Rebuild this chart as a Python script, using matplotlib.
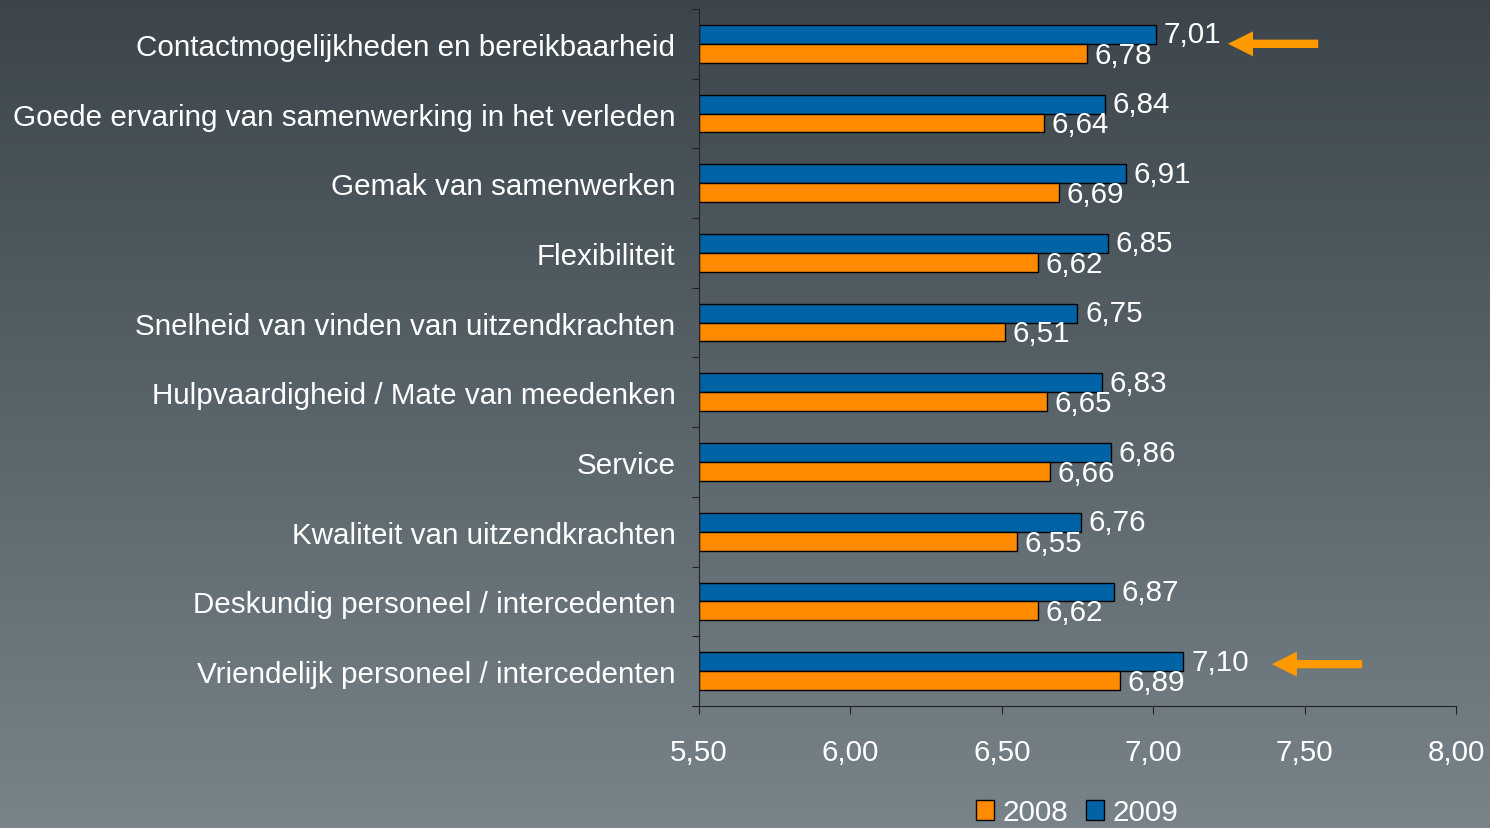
import numpy as np
import matplotlib
matplotlib.use("Agg")
import matplotlib.pyplot as plt
from matplotlib import font_manager

# Data
categories = [
    "Contactmogelijkheden en bereikbaarheid",
    "Goede ervaring van samenwerking in het verleden",
    "Gemak van samenwerken",
    "Flexibiliteit",
    "Snelheid van vinden van uitzendkrachten",
    "Hulpvaardigheid / Mate van meedenken",
    "Service",
    "Kwaliteit van uitzendkrachten",
    "Deskundig personeel / intercedenten",
    "Vriendelijk personeel / intercedenten",
]
scores_2008 = [6.78, 6.64, 6.69, 6.62, 6.51, 6.65, 6.66, 6.55, 6.62, 6.89]
scores_2009 = [7.01, 6.84, 6.91, 6.85, 6.75, 6.83, 6.86, 6.76, 6.87, 7.10]
series_labels = ["2008", "2009"]
x_ticks = [5.5, 6.0, 6.5, 7.0, 7.5, 8.0]
highlighted = [0, 9]  # rows marked with an arrow

# pick a narrow sans if there is one
font_name = "Liberation Sans"
try:
    font_manager.findfont("Liberation Sans Narrow", fallback_to_default=False)
    font_name = "Liberation Sans Narrow"
except Exception:
    pass
plt.rcParams['font.family'] = [font_name, 'DejaVu Sans']

BLUE = '#0063a6'
ORANGE = '#ff8a00'
ARROW = '#ff9900'
FS = 21.3

fig = plt.figure(figsize=(14.9, 8.29), dpi=100)

# background gradient
bg = fig.add_axes([0, 0, 1, 1], zorder=-10)
grad = np.linspace(0, 1, 256).reshape(-1, 1)
cmap = matplotlib.colors.LinearSegmentedColormap.from_list('bg', ['#3b454b', '#78848a'])
bg.imshow(grad, aspect='auto', cmap=cmap, extent=[0, 1, 1, 0])
bg.axis('off')

ax = fig.add_axes([0.4691, 0.1472, 0.9772 - 0.4691, 0.988 - 0.1472])
ax.patch.set_alpha(0)

n = len(categories)
centers = np.arange(n) + 0.5
h = 0.27
ax.barh(centers - h / 2, np.array(scores_2009) - 5.5, left=5.5, height=h, color=BLUE,
        edgecolor='black', linewidth=1, label=series_labels[1])
ax.barh(centers + h / 2, np.array(scores_2008) - 5.5, left=5.5, height=h, color=ORANGE,
        edgecolor='black', linewidth=1, label=series_labels[0])

for i in range(n):
    ax.text(scores_2009[i] + 0.025, centers[i] - h / 2, f"{scores_2009[i]:.2f}".replace('.', ','),
            color='white', fontsize=FS, va='center', ha='left')
    ax.text(scores_2008[i] + 0.025, centers[i] + h / 2 + 0.02, f"{scores_2008[i]:.2f}".replace('.', ','),
            color='white', fontsize=FS, va='center', ha='left')

# arrows next to the highlighted rows
arrow_x = {0: (7.247, 7.545), 9: (7.392, 7.690)}
arrow_y = {0: centers[0], 9: centers[9] - 0.1}
for i in highlighted:
    tip, tail = arrow_x[i]
    ax.annotate('', xy=(tip, arrow_y[i]), xytext=(tail, arrow_y[i]), annotation_clip=False,
                arrowprops=dict(arrowstyle='simple,head_length=18,head_width=18,tail_width=6',
                                mutation_scale=1, color=ARROW, shrinkA=0, shrinkB=0, lw=0))

ax.set_xlim(5.5, 8.0)
ax.set_ylim(n, 0)
ax.set_xticks(x_ticks)
ax.set_xticklabels([f"{v:.2f}".replace('.', ',') for v in x_ticks])
ax.set_yticks(np.arange(n + 1))
ax.set_yticklabels([])
ax.set_yticks(centers, minor=True)
ax.set_yticklabels(categories, minor=True)
ax.tick_params(axis='y', which='minor', length=0, pad=17, labelsize=FS, labelcolor='white')
ax.tick_params(axis='y', which='major', length=5, color='#222222')
ax.tick_params(axis='x', length=6, pad=17, labelsize=FS, labelcolor='white', color='#222222')
for s in ['top', 'right']:
    ax.spines[s].set_visible(False)
for s in ['left', 'bottom']:
    ax.spines[s].set_color('#222222')

handles, labels = ax.get_legend_handles_labels()
fig.legend(handles[::-1], labels[::-1], loc='center', bbox_to_anchor=(0.723, 0.019),
           ncol=2, frameon=False, fontsize=FS, labelcolor='white', handlelength=0.6,
           handleheight=0.7, handletextpad=0.3, columnspacing=0.6, borderpad=0.1)

fig.savefig('out.png', dpi=100)
